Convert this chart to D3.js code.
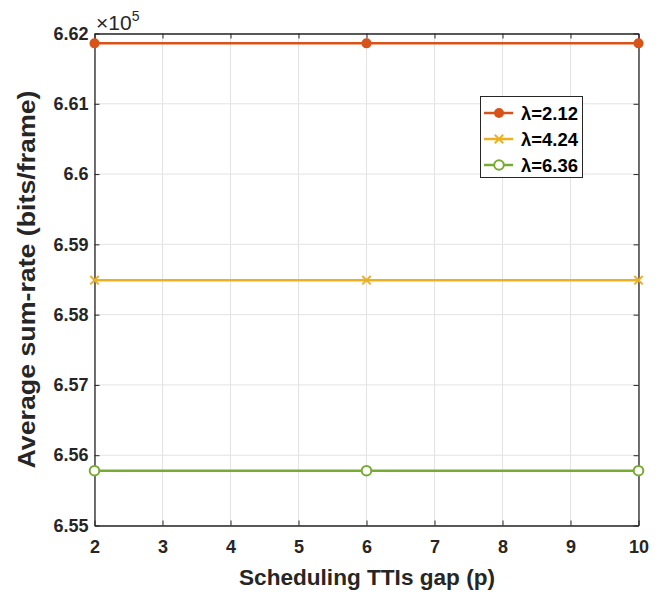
<!DOCTYPE html>
<html><head><meta charset="utf-8">
<script src="https://cdn.jsdelivr.net/npm/d3@7"></script>
<style>body{margin:0;background:#fff;} text{font-family:"Liberation Sans",Arial,sans-serif;font-weight:bold;}</style>
</head><body><svg id="c" width="660" height="592"></svg>
<script>
const xValues = [2, 6, 10];
const seriesNames = ["λ=2.12", "λ=4.24", "λ=6.36"];
const series1 = [6.6186, 6.6186, 6.6186];
const series2 = [6.5849, 6.5849, 6.5849];
const series3 = [6.5578, 6.5578, 6.5578];
const xTicks = [2,3,4,5,6,7,8,9,10];
const yTicks = [6.55,6.56,6.57,6.58,6.59,6.6,6.61,6.62];
const colors = ["#D95319","#EDB120","#77AC30"];
const markers = ["dot","x","circle"];

const svg = d3.select("#c");
const L=94.5, R=638.5, T=33.5, B=525.5;
const x = d3.scaleLinear().domain([2,10]).range([L,R]);
const y = d3.scaleLinear().domain([6.55,6.62]).range([B,T]);

// grid
const g = svg.append("g");
g.selectAll(".gx").data(xTicks).enter().append("line")
 .attr("x1",d=>x(d)).attr("x2",d=>x(d)).attr("y1",T).attr("y2",B)
 .attr("stroke","#e3e3e3").attr("stroke-width",1);
g.selectAll(".gy").data(yTicks).enter().append("line")
 .attr("y1",d=>y(d)).attr("y2",d=>y(d)).attr("x1",L).attr("x2",R)
 .attr("stroke","#e3e3e3").attr("stroke-width",1);

// axes
const xa = svg.append("g").attr("transform",`translate(0,${B})`)
 .call(d3.axisBottom(x).tickValues(xTicks).tickSizeInner(-5).tickSizeOuter(0).tickPadding(11).tickFormat(d3.format("d")));
const xt = svg.append("g").attr("transform",`translate(0,${T})`)
 .call(d3.axisTop(x).tickValues(xTicks).tickSizeInner(-5).tickSizeOuter(0).tickFormat(""));
const ya = svg.append("g").attr("transform",`translate(${L},0)`)
 .call(d3.axisLeft(y).tickValues(yTicks).tickSizeInner(-5).tickSizeOuter(0).tickPadding(6).tickFormat(d=>d3.format(".2f")(d).replace(/0$/,"")));
const yr = svg.append("g").attr("transform",`translate(${R},0)`)
 .call(d3.axisRight(y).tickValues(yTicks).tickSizeInner(-5).tickSizeOuter(0).tickFormat(""));
[xa,xt,ya,yr].forEach(a=>{a.select(".domain").attr("stroke","#262626").attr("stroke-width",1.3);
 a.selectAll(".tick line").attr("stroke","#262626");
 a.selectAll("text").attr("fill","#262626").style("font-size","18px");});
xa.selectAll("text").attr("dy","0.9em");

// x10^5
const ex = svg.append("text").attr("x",96).attr("y",30).attr("fill","#262626").style("font-size","21px").style("font-weight","normal");
ex.append("tspan").text("×10");
ex.append("tspan").attr("dy",-9).style("font-size","14px").text("5");

// series
const allSeries=[series1,series2,series3];
const line = d3.line().x((d,i)=>x(xValues[i])).y(d=>y(d));
function drawMarker(sel,type,c,cx,cy){
 if(type==="dot") sel.append("circle").attr("cx",cx).attr("cy",cy).attr("r",5).attr("fill",c);
 else if(type==="circle") sel.append("circle").attr("cx",cx).attr("cy",cy).attr("r",4.8).attr("fill","#fff").attr("stroke",c).attr("stroke-width",2);
 else { const s=4.2; sel.append("path").attr("d",`M${cx-s},${cy-s}L${cx+s},${cy+s}M${cx-s},${cy+s}L${cx+s},${cy-s}`).attr("stroke",c).attr("stroke-width",2);}
}
allSeries.forEach((s,k)=>{
 svg.append("path").datum(s).attr("d",line).attr("fill","none").attr("stroke",colors[k]).attr("stroke-width",2.5);
 const mg=svg.append("g");
 s.forEach((v,i)=>drawMarker(mg,markers[k],colors[k],x(xValues[i]),y(v)));
});

// legend
const lg = svg.append("g");
lg.append("rect").attr("x",480.5).attr("y",96.5).attr("width",102).attr("height",81).attr("fill","#fff").attr("stroke","#262626").attr("stroke-width",1);
seriesNames.forEach((n,k)=>{
 const yy=113+k*26;
 lg.append("line").attr("x1",484).attr("x2",513).attr("y1",yy).attr("y2",yy).attr("stroke",colors[k]).attr("stroke-width",2.5);
 drawMarker(lg,markers[k],colors[k],499,yy);
 lg.append("text").attr("x",521).attr("y",yy+6.5).attr("fill","#000").style("font-size","18px").attr("textLength",57).attr("lengthAdjust","spacingAndGlyphs").text(n);
});

// labels
svg.append("text").attr("x",(L+R)/2+0.5).attr("y",585).attr("text-anchor","middle").attr("fill","#262626").style("font-size","22px")
 .attr("textLength",256).attr("lengthAdjust","spacingAndGlyphs").text("Scheduling TTIs gap (p)");
svg.append("text").attr("transform",`translate(35,${(T+B)/2}) rotate(-90)`).attr("text-anchor","middle").attr("fill","#262626").style("font-size","23px")
 .attr("textLength",378).attr("lengthAdjust","spacingAndGlyphs").text("Average sum-rate (bits/frame)");
</script></body></html>
